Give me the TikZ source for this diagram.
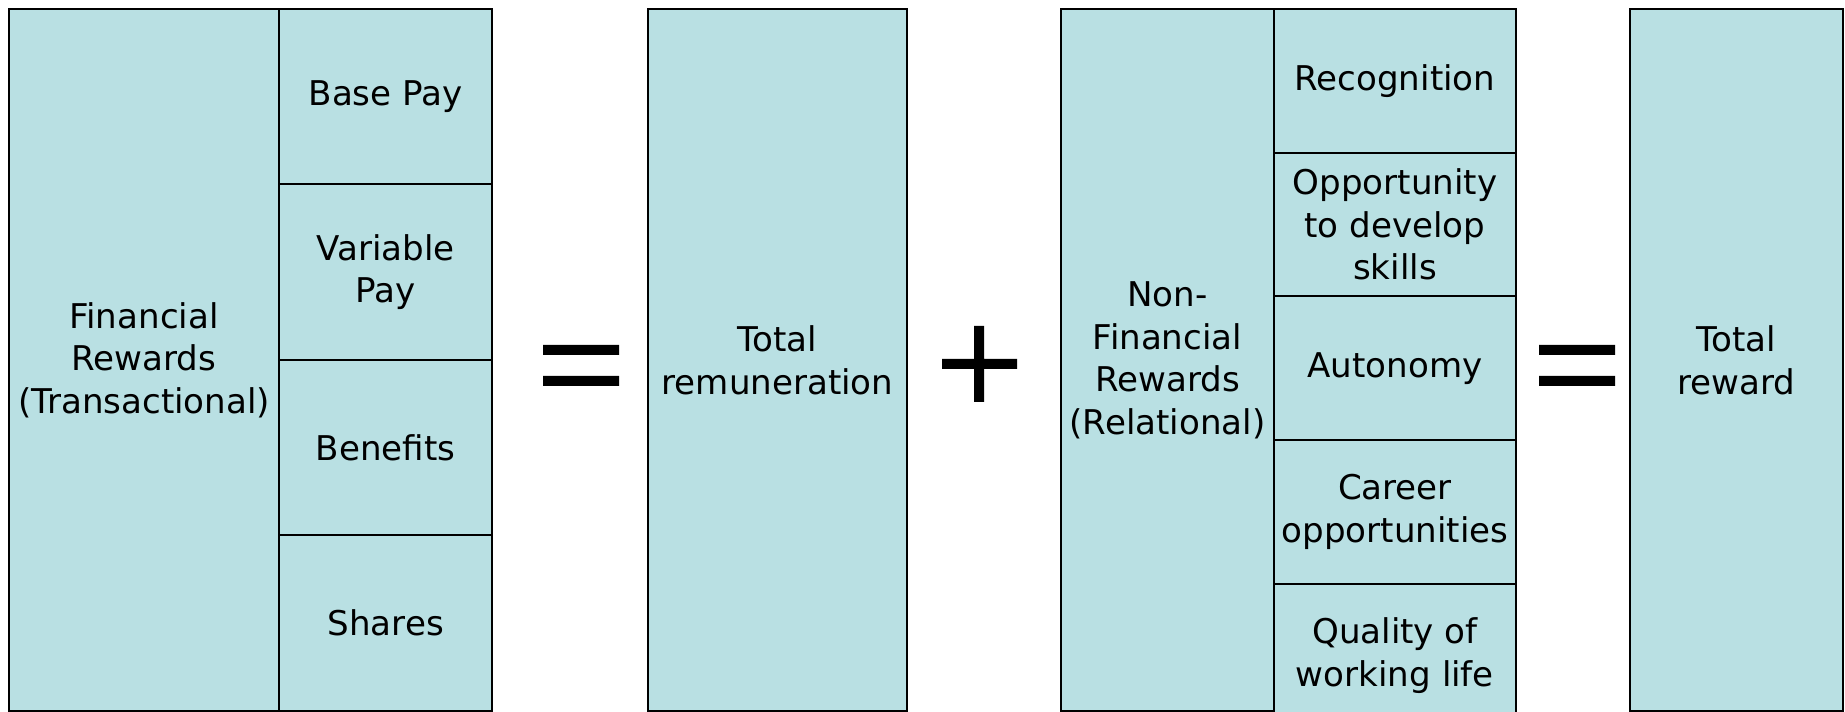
\documentclass[tikz,border=0pt]{standalone}
\usepackage{fontspec}
\setmainfont{DejaVu Sans}
\usepackage{tikz}
\usetikzlibrary{positioning}
\definecolor{colorBox}{RGB}{185,224,227}
\tikzset{every node/.style={font=\fontsize{19.4}{24.2}\selectfont}}

\begin{document}
\begin{tikzpicture}[x=0.02cm, y=-0.02cm, box/.style={draw, line width=1.1pt, fill=colorBox, align=center, inner sep=0pt, outer sep=0pt, minimum height=14.05cm}, cellL/.style={box, minimum width=4.27cm, minimum height=3.51cm}, cellR/.style={box, minimum width=4.84cm, minimum height=2.874cm}, bar/.style={fill=black}]
\clip (0,0) rectangle (1845,712);
\fill[white] (0,0) rectangle (1845,712);
\node[box, minimum width=5.4cm, anchor=north west] (fin) at (9,9) {Financial\\Rewards\\(Transactional)};
\node[cellL, anchor=north west] (pay1) at (fin.north east) {Base Pay};
\node[cellL, below=0pt of pay1] (pay2) {Variable\\Pay};
\node[cellL, below=0pt of pay2] (pay3) {Benefits};
\node[cellL, below=0pt of pay3] (pay4) {Shares};
\node[box, minimum width=5.18cm, anchor=north west] (trem) at (648,9) {Total\\remuneration};
\node[box, minimum width=4.26cm, anchor=north west] (nonfin) at (1061,9) {Non-\\Financial\\Rewards\\(Relational)};
\node[cellR, anchor=north west] (rel1) at (nonfin.north east) {Recognition};
\node[cellR, below=0pt of rel1] (rel2) {Opportunity\\to develop\\skills};
\node[cellR, below=0pt of rel2] (rel3) {Autonomy};
\node[cellR, below=0pt of rel3] (rel4) {Career\\opportunities};
\node[cellR, below=0pt of rel4] (rel5) {Quality of\\working life};
\node[box, minimum width=4.26cm, anchor=north west] (treward) at (1630,9) {Total\\reward};
\fill[bar] (543,345) rectangle (619,355) (543,376) rectangle (619,386);
\fill[bar] (942,359) rectangle (1017,369) (974,326) rectangle (984,402);
\fill[bar] (1539,345) rectangle (1615,355) (1539,376) rectangle (1615,386);
\end{tikzpicture}
\end{document}
